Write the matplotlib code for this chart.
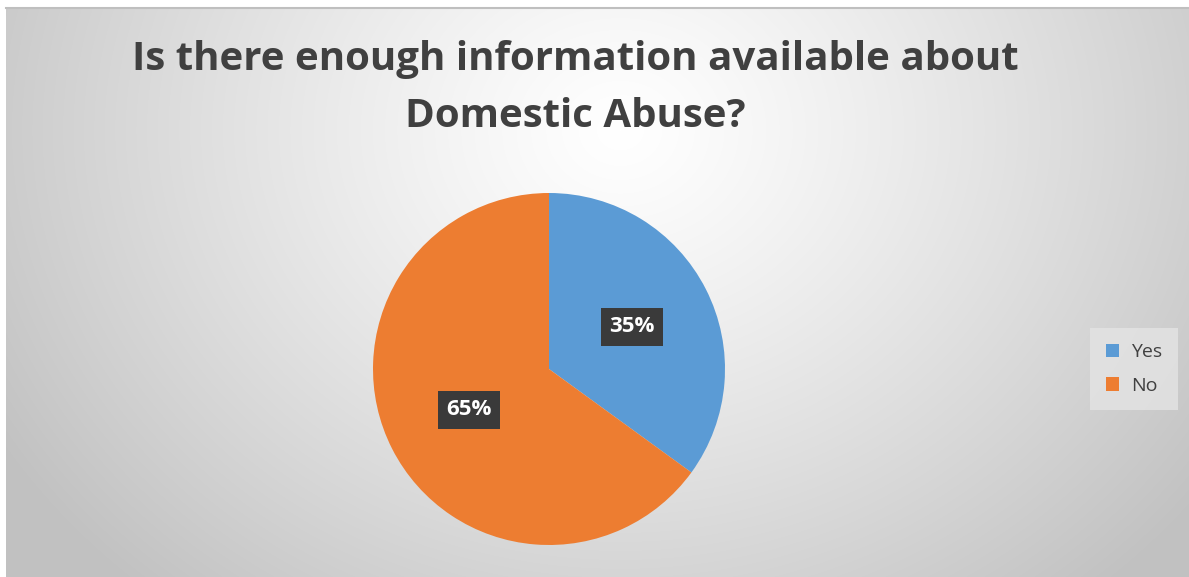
import numpy as np
import matplotlib.pyplot as plt

labels = ["Yes", "No"]
values = [35, 65]
colors = ["#5B9BD5", "#ED7D31"]
title = "Is there enough information available about\nDomestic Abuse?"

W, H = 1189, 577
fig = plt.figure(figsize=(W / 100, H / 100), dpi=100)

# background: white strip on top, radial grey gradient below
bg = fig.add_axes([0, 0, 1, 1])
bg.set_xlim(0, W)
bg.set_ylim(H, 0)
bg.axis("off")
yy, xx = np.mgrid[0:H, 0:W]
d = np.hypot((xx - 620) / 1.0, (yy - 130) / 0.85)
shade = 1.0 - 0.24 * np.clip(d / 720, 0, 1) ** 1.2
img = np.dstack([shade] * 3)
img[:8, :, :] = 1.0
img[:, :6, :] = 1.0
bg.imshow(img, extent=(0, W, H, 0), aspect="auto", interpolation="bilinear")
bg.plot([6, W], [8, 8], color="#bfbfbf", lw=1.5)

# pie
r = 176
cx, cy = 549, 369
ax = fig.add_axes([(cx - r) / W, 1 - (cy + r) / H, 2 * r / W, 2 * r / H])
wedges, _ = ax.pie(values, colors=colors, startangle=90, counterclock=False,
                   wedgeprops=dict(linewidth=0))
ax.set_aspect("auto")
ax.set_xlim(-1, 1)
ax.set_ylim(-1, 1)

font = "Open Sans"
for w, v in zip(wedges, values):
    ang = np.deg2rad((w.theta1 + w.theta2) / 2)
    rr = 0.53 if v < 50 else 0.51
    ax.text(rr * np.cos(ang), rr * np.sin(ang), f"{v}%", ha="center", va="center",
            color="white", fontsize=16, fontweight="bold", family=font,
            bbox=dict(boxstyle="square,pad=0.38", fc="#3a3a3a", ec="none"))

fig.text(575 / W, 1 - 88 / H, title, ha="center", va="center", fontsize=29,
         fontweight="bold", color="#404040", family=font, linespacing=1.6)

# legend
handles = [plt.Rectangle((0, 0), 1, 1, fc=c) for c in colors]
leg = fig.legend(handles, labels, loc="center", bbox_to_anchor=(1134 / W, 1 - 369 / H),
                 frameon=True, handlelength=0.7, handleheight=0.7,
                 handletextpad=0.6, labelspacing=0.8, borderpad=0.5,
                 prop=dict(family=font, size=14))
leg.get_frame().set_facecolor("#e4e4e4")
leg.get_frame().set_edgecolor("none")
leg.get_frame().set_alpha(0.8)
leg.get_frame().set_boxstyle("square")
for t in leg.get_texts():
    t.set_color("#404040")

fig.savefig("out.png", dpi=100)
